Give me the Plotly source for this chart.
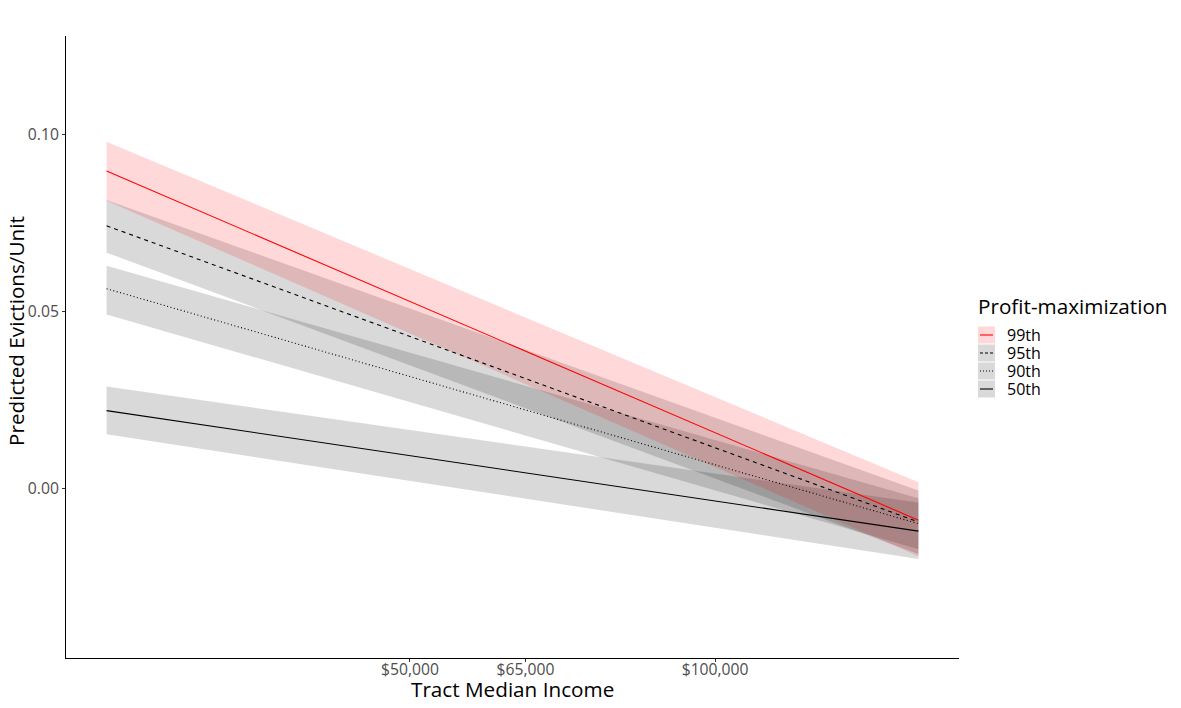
import math
import plotly.graph_objects as go

# ---- data ----
income = [25100, 158700]                     # x range of predictions
groups = ["99th", "95th", "90th", "50th"]
pred = {
    "99th": [0.0898, -0.0090],
    "95th": [0.0743, -0.0095],
    "90th": [0.0565, -0.0100],
    "50th": [0.0220, -0.0121],
}
upper = {
    "99th": [0.0981, 0.0017],
    "95th": [0.0816, -0.0006],
    "90th": [0.0630, -0.0028],
    "50th": [0.0288, -0.0040],
}
lower = {
    "99th": [0.0814, -0.0192],
    "95th": [0.0667, -0.0186],
    "90th": [0.0492, -0.0172],
    "50th": [0.0153, -0.0200],
}
line_color = {"99th": "#ff0000", "95th": "#000000", "90th": "#000000", "50th": "#000000"}
fill_color = {"99th": "rgba(255,0,0,0.15)", "95th": "rgba(0,0,0,0.15)",
              "90th": "rgba(0,0,0,0.15)", "50th": "rgba(0,0,0,0.15)"}
dash = {"99th": "solid", "95th": "4px,4px", "90th": "1px,2.5px", "50th": "solid"}

x_ticks = [50000, 65000, 100000]
x_labels = ["$50,000", "$65,000", "$100,000"]
y_ticks = [0.0, 0.05, 0.10]
y_labels = ["0.00", "0.05", "0.10"]

FONT = "Open Sans"
fig = go.Figure()

# ribbons (drawn first)
for g in reversed(groups):
    xs = income + income[::-1]
    ys = upper[g] + lower[g][::-1]
    fig.add_trace(go.Scatter(x=xs, y=ys, fill="toself", fillcolor=fill_color[g],
                             line=dict(width=0), mode="lines", hoverinfo="skip",
                             showlegend=False))
# lines
for g in reversed(groups):
    fig.add_trace(go.Scatter(x=income, y=pred[g], mode="lines",
                             line=dict(color=line_color[g], width=1.1, dash=dash[g]),
                             name=g, showlegend=False))

lx0, lx1 = math.log10(income[0]), math.log10(income[1])
pad = (lx1 - lx0) * 0.05

fig.update_xaxes(type="log", range=[lx0 - pad, lx1 + pad], automargin=False,
                 tickvals=x_ticks, ticktext=x_labels,
                 showline=True, linecolor="#000000", linewidth=1, mirror=False,
                 ticks="outside", ticklen=3, tickcolor="#333333",
                 showgrid=False, zeroline=False, ticklabelstandoff=-6,
                 tickfont=dict(family=FONT, size=15.7, color="#4d4d4d"))
fig.update_yaxes(range=[-0.048, 0.128], automargin=False,
                 tickvals=y_ticks, ticktext=y_labels,
                 showline=True, linecolor="#000000", linewidth=1,
                 ticks="outside", ticklen=3, tickcolor="#333333",
                 showgrid=False, zeroline=False,
                 tickfont=dict(family=FONT, size=15.7, color="#4d4d4d"))

# page has an 8px body margin; work in page pixels
OFF = 8
W, H = 1181 - 2 * OFF, 708 - 2 * OFF
plot_l, plot_r, plot_t, plot_b = 66, 959, 36, 658   # page pixels
ml, mr = plot_l - OFF, (W + OFF) - plot_r
mt, mb = plot_t - OFF, (H + OFF) - plot_b
pw, ph = plot_r - plot_l, plot_b - plot_t

def px2paper(x, y):
    return (x - plot_l) / pw, (plot_b - y) / ph

shapes = []
annotations = []
# axis titles
ax_, ay_ = px2paper(512.5, 689)
annotations.append(dict(x=ax_, y=ay_, xref="paper", yref="paper", text="Tract Median Income",
                        showarrow=False, xanchor="center", yanchor="middle",
                        font=dict(family=FONT, size=20.7, color="#000000")))
ax_, ay_ = px2paper(16, 331)
annotations.append(dict(x=ax_, y=ay_, xref="paper", yref="paper", text="Predicted Evictions/Unit",
                        showarrow=False, xanchor="center", yanchor="middle", textangle=-90,
                        font=dict(family=FONT, size=20.7, color="#000000")))
# legend (ggplot style: fill key with line)
tx, ty = px2paper(976, 306)
annotations.append(dict(x=tx, y=ty, xref="paper", yref="paper", text="Profit-maximization",
                        showarrow=False, xanchor="left", yanchor="middle",
                        font=dict(family=FONT, size=20.7, color="#000000")))
for i, g in enumerate(groups):
    cy = 335 + i * 18
    x0, y0 = px2paper(978, cy - 8.5)
    x1, y1 = px2paper(995, cy + 8.5)
    shapes.append(dict(type="rect", xref="paper", yref="paper", x0=x0, x1=x1, y0=y1, y1=y0,
                       fillcolor=fill_color[g], line=dict(width=0), layer="above"))
    lxa, lya = px2paper(980, cy)
    lxb, _ = px2paper(993, cy)
    shapes.append(dict(type="line", xref="paper", yref="paper", x0=lxa, x1=lxb, y0=lya, y1=lya,
                       line=dict(color=line_color[g], width=1.1,
                                 dash="3px,2px" if g == "95th" else ("1px,2px" if g == "90th" else "solid")),
                       layer="above"))
    tx2, ty2 = px2paper(1005, cy)
    annotations.append(dict(x=tx2, y=ty2, xref="paper", yref="paper", text=g, showarrow=False,
                            xanchor="left", yanchor="middle",
                            font=dict(family=FONT, size=16, color="#000000")))

fig.update_layout(width=W, height=H, margin=dict(l=ml, r=mr, t=mt, b=mb),
                  plot_bgcolor="#ffffff", paper_bgcolor="#ffffff",
                  showlegend=False, shapes=shapes, annotations=annotations,
                  font=dict(family=FONT))

fig.write_html("out.html")
